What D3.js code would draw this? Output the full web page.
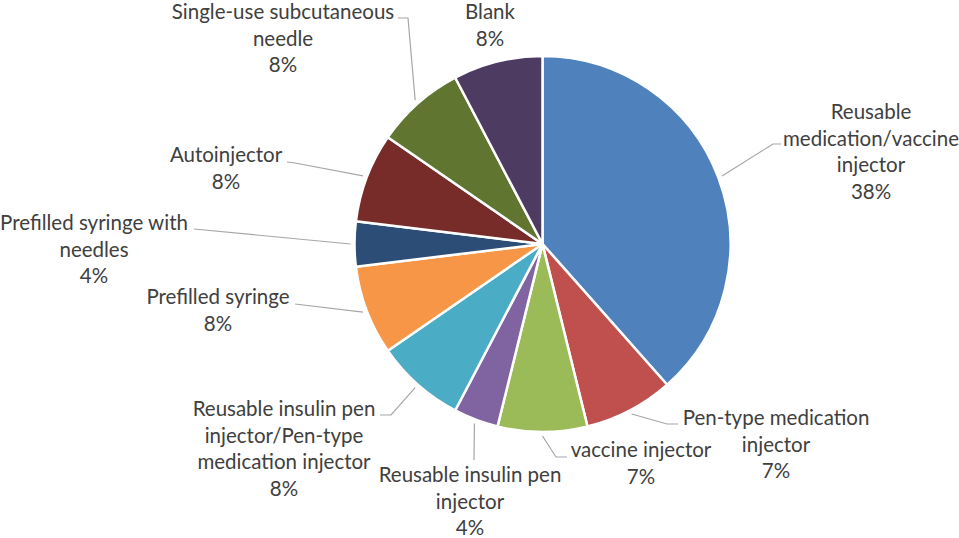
<!DOCTYPE html>
<meta charset="utf-8" />
<script src="https://d3js.org/d3.v7.min.js"></script>
<style>
  body { margin: 0; background: #fff; }
  .lbl { font-family: Lato, "Noto Sans", sans-serif; font-size: 20.5px; fill: #404040; }
</style>
<body>
  <div id="chart"></div>
</body>
<script>
  // categories, clockwise from 12 o'clock
  var categories = [
    "Reusable medication/vaccine injector",
    "Pen-type medication injector",
    "vaccine injector",
    "Reusable insulin pen injector",
    "Reusable insulin pen injector/Pen-type medication injector",
    "Prefilled syringe",
    "Prefilled syringe with needles",
    "Autoinjector",
    "Single-use subcutaneous needle",
    "Blank",
  ];
  // number of responses per category (slice sizes)
  var counts = [10, 2, 2, 1, 2, 2, 1, 2, 2, 2];
  // percentages as printed on the chart
  var percentLabels = ["38%", "7%", "7%", "4%", "8%", "8%", "4%", "8%", "8%", "8%"];
  // how each category name is wrapped in its label
  var labelLines = [
    ["Reusable", "medication/vaccine", "injector"],
    ["Pen-type medication", "injector"],
    ["vaccine injector"],
    ["Reusable insulin pen", "injector"],
    ["Reusable insulin pen", "injector/Pen-type", "medication injector"],
    ["Prefilled syringe"],
    ["Prefilled syringe with", "needles"],
    ["Autoinjector"],
    ["Single-use subcutaneous", "needle"],
    ["Blank"],
  ];

  var colors = ["#4f81bd", "#c0504d", "#9bbb59", "#8064a2", "#4bacc6",
                "#f79646", "#2c4d75", "#772c2a", "#5f7530", "#4d3b62"];

  // where each label sits (centre x, first baseline) and the bend of its leader line
  var labelPlace = [
    { x: 871, y: 119, leader: [[773, 144], [781, 144]] },
    { x: 776, y: 425, leader: [[667, 424], [678, 424]] },
    { x: 641, y: 457, leader: [[556, 457], [567, 457]] },
    { x: 470, y: 482, leader: [[474, 460]] },
    { x: 284, y: 416, leader: [[391, 415], [380, 415]] },
    { x: 218, y: 304, leader: [[295, 304]] },
    { x: 94, y: 230, leader: [[194, 229]] },
    { x: 226, y: 162, leader: [[295, 163], [287, 162]] },
    { x: 283, y: 19, leader: [[408, 18], [398, 18]] },
    { x: 490, y: 19, leader: null },
  ];

  var width = 959, height = 538;
  var cx = 542.5, cy = 244, radius = 188, lineH = 26.5;

  var svg = d3.select("#chart").append("svg")
    .attr("width", width)
    .attr("height", height);

  var data = categories.map(function (c, i) {
    return { name: c, value: counts[i], pct: percentLabels[i], lines: labelLines[i], place: labelPlace[i], color: colors[i] };
  });

  var pie = d3.pie().sort(null).value(function (d) { return d.value; });
  var arc = d3.arc().innerRadius(0).outerRadius(radius);
  var arcs = pie(data);

  var g = svg.append("g").attr("transform", "translate(" + cx + "," + cy + ")");

  g.selectAll("path.slice")
    .data(arcs)
    .enter()
    .append("path")
    .attr("class", "slice")
    .attr("d", arc)
    .attr("fill", function (d) { return d.data.color; })
    .attr("stroke", "#fff")
    .attr("stroke-width", 2.5)
    .attr("stroke-linejoin", "round");

  // leader lines: start just outside the slice at its middle angle
  var line = d3.line();
  svg.selectAll("path.leader")
    .data(arcs.filter(function (d) { return d.data.place.leader; }))
    .enter()
    .append("path")
    .attr("class", "leader")
    .attr("d", function (d) {
      var a = (d.startAngle + d.endAngle) / 2, r = radius + 4;
      var pts = [[cx + r * Math.sin(a), cy - r * Math.cos(a)]].concat(d.data.place.leader);
      return line(pts);
    })
    .attr("fill", "none")
    .attr("stroke", "#a6a6a6")
    .attr("stroke-width", 1.2);

  // labels: category name (wrapped) + percentage
  var labels = svg.selectAll("text.lbl")
    .data(arcs)
    .enter()
    .append("text")
    .attr("class", "lbl")
    .attr("text-anchor", "middle")
    .attr("x", function (d) { return d.data.place.x; })
    .attr("y", function (d) { return d.data.place.y; });

  labels.each(function (d) {
    var t = d3.select(this);
    d.data.lines.concat([d.data.pct]).forEach(function (s, i) {
      t.append("tspan")
        .attr("x", d.data.place.x)
        .attr("y", d.data.place.y + i * lineH)
        .text(s);
    });
  });
</script>
